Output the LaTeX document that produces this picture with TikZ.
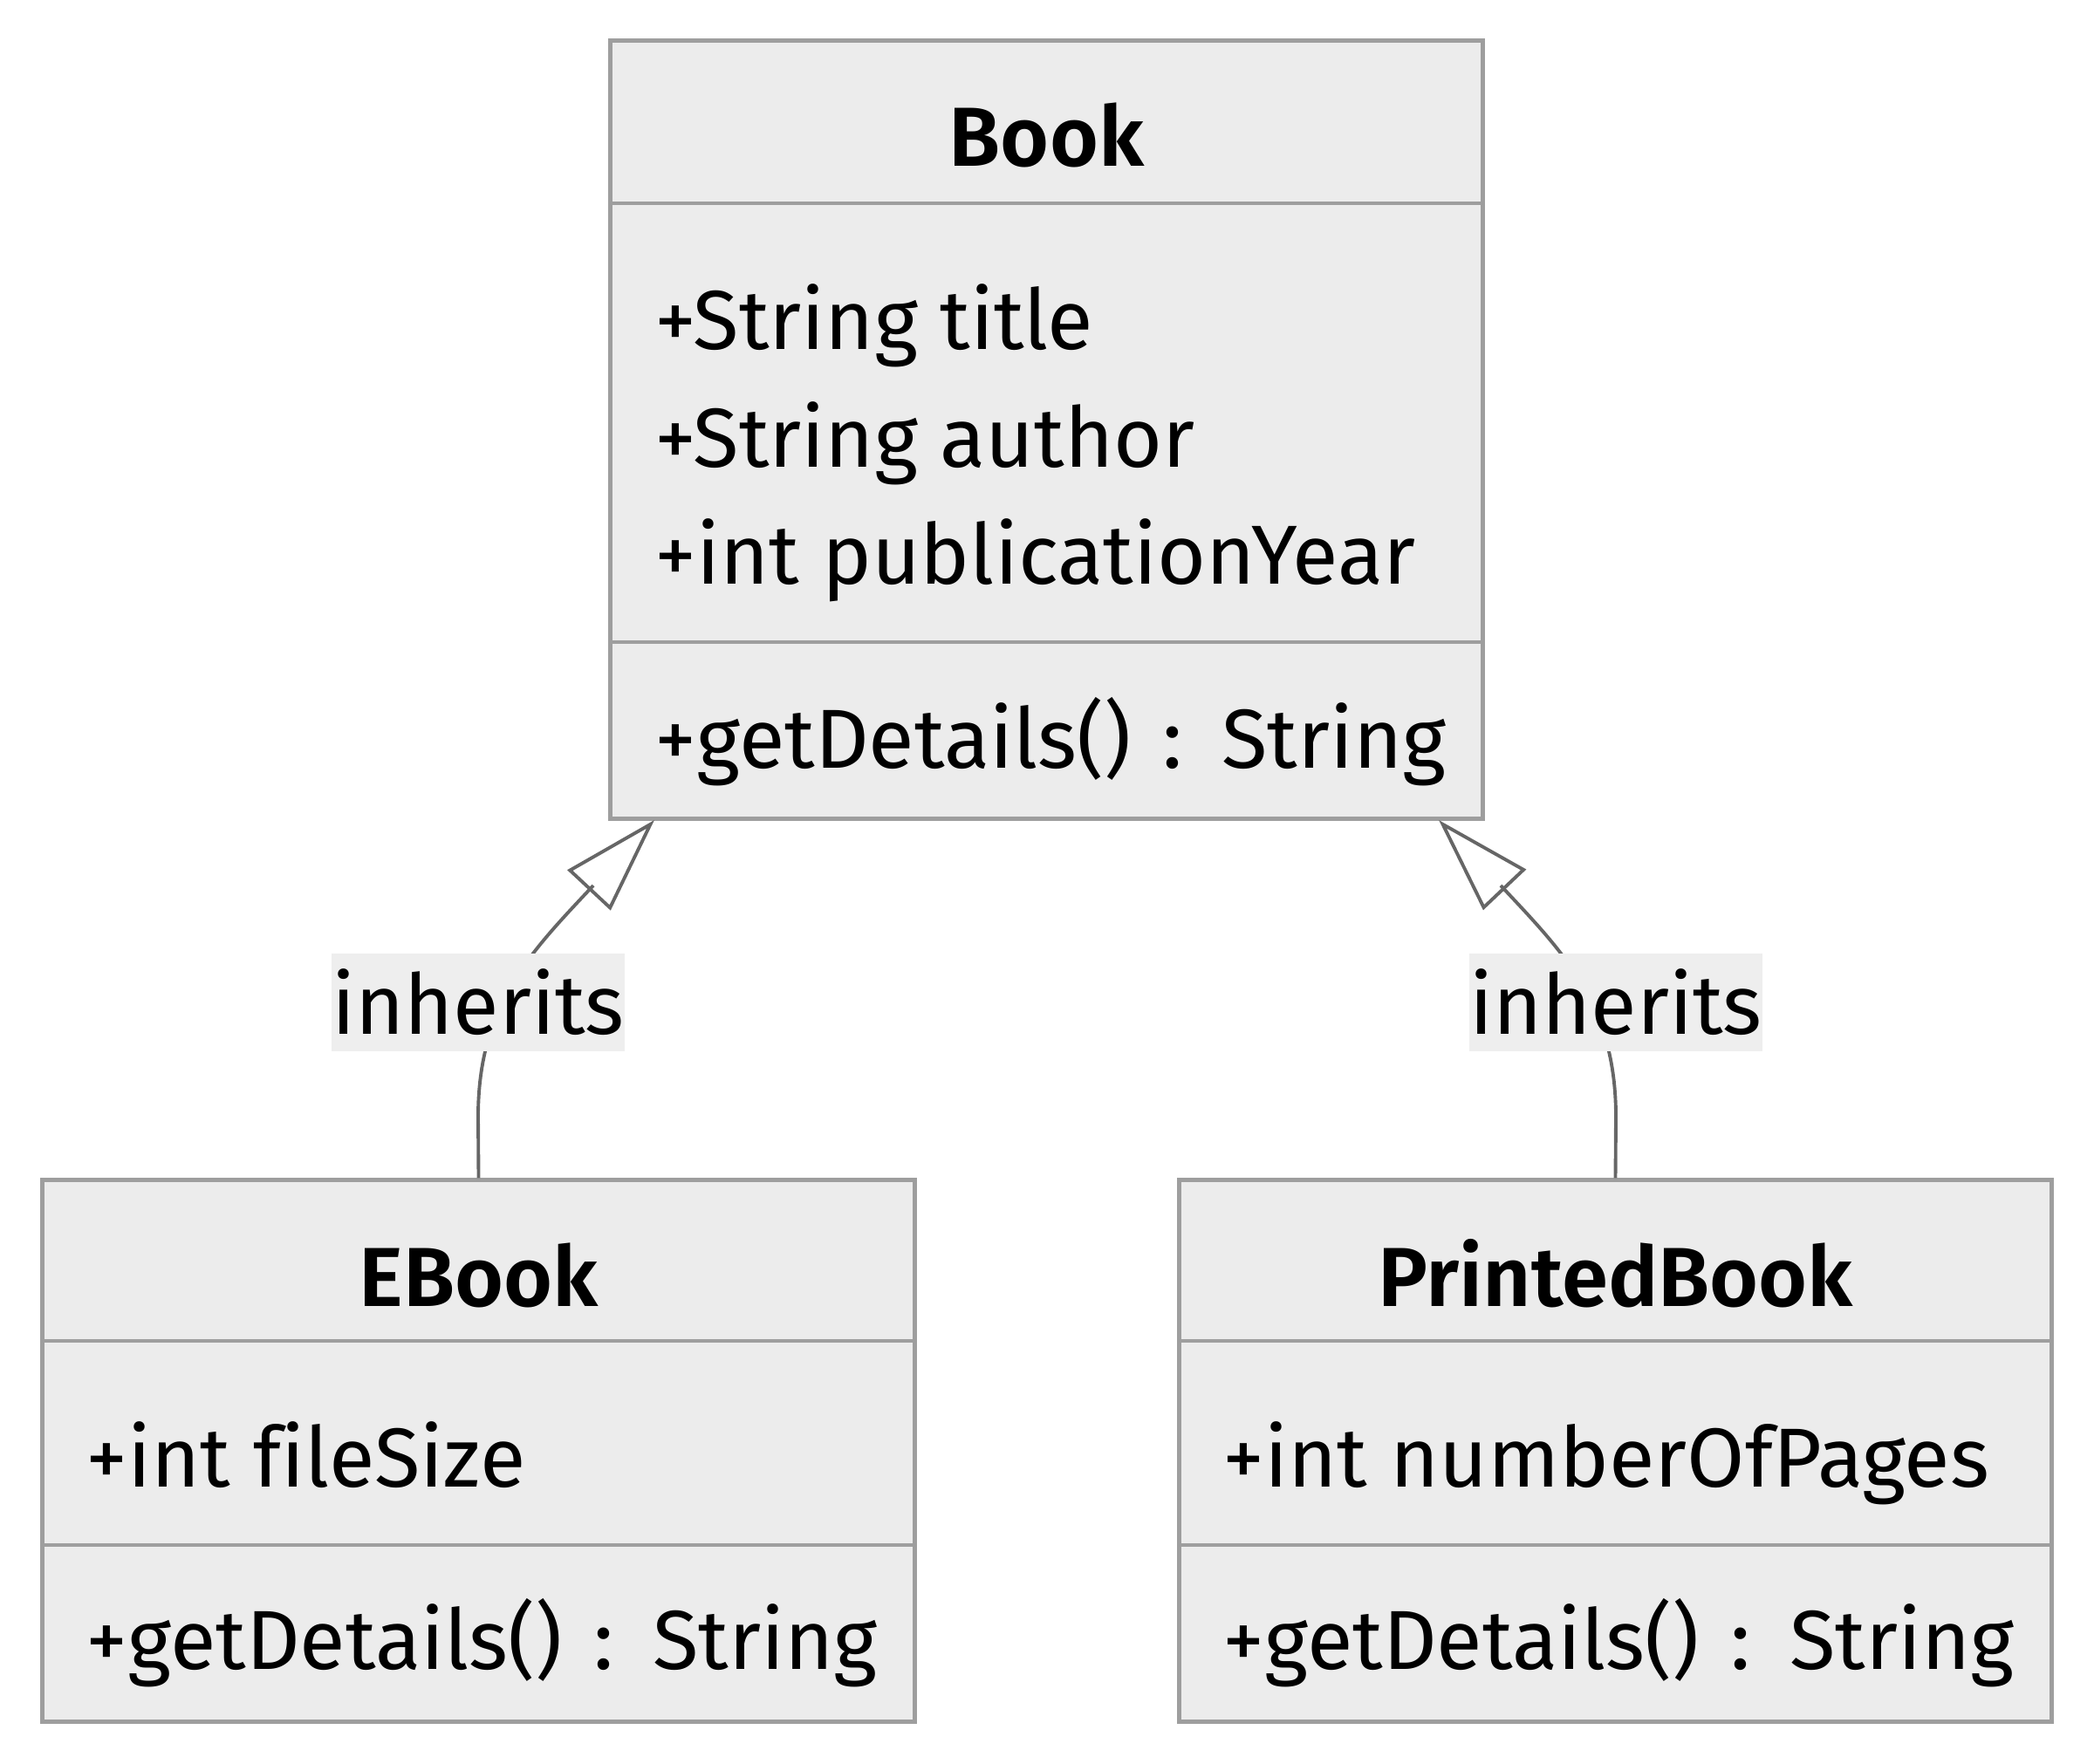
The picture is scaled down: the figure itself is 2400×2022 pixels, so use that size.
\documentclass[tikz,border=0pt]{standalone}
\usepackage{fontspec}
\setmainfont{Fira Sans}[Ligatures=NoCommon, BoldFont={Fira Sans SemiBold}]
\usetikzlibrary{arrows.meta}
\definecolor{boxfill}{HTML}{ECECEC}
\definecolor{boxline}{HTML}{9E9E9E}
\definecolor{edgeline}{HTML}{666666}
\definecolor{labelfill}{HTML}{EEEEEE}
\newcommand{\rtype}{\hspace{3pt} : \hspace{3pt}}
\tikzset{
	classbox/.style={draw=boxline, fill=boxfill, line width=1.4pt, inner sep=0pt},
	divider/.style={draw=boxline, line width=1.4pt},
	member/.style={anchor=base west, inner sep=0pt, font=\fontsize{27.3}{33}\selectfont},
	classname/.style={anchor=base, inner sep=0pt, font=\fontsize{27.3}{33}\selectfont\bfseries},
	inherit/.style={draw=edgeline, line width=1.1pt, -{Triangle[open, length=1.1cm, width=0.67cm]}},
	edgelabel/.style={fill=labelfill, inner sep=0pt, minimum width=3.3cm, minimum height=1.12cm, font=\fontsize{27.3}{33}\selectfont}
}
\begin{document}
\begin{tikzpicture}[x=0.01cm, y=-0.01cm]
	\useasboundingbox (0,0) rectangle (2400,2022);
	
	\node[classbox, minimum width=9.99cm, minimum height=8.91cm] (book) at (1199.5,492.5) {};
	\draw[divider] (700,233) -- (1699,233);
	\draw[divider] (700,736) -- (1699,736);
	\node[classname] (bookT) at (1199.5,191) {Book};
	\node[member] (bookA1) at (750,401) {+String title};
	\node[member] (bookA2) at (750,536) {+String author};
	\node[member] (bookA3) at (750,670) {+int publicationYear};
	\node[member] (bookM1) at (750,880) {+getDetails()\rtype String};
	
	\node[classbox, minimum width=9.99cm, minimum height=6.2cm] (ebook) at (548.5,1663) {};
	\draw[divider] (49,1537) -- (1048,1537);
	\draw[divider] (49,1771) -- (1048,1771);
	\node[classname] (ebookT) at (548.5,1497) {EBook};
	\node[member] (ebookA1) at (98,1704) {+int fileSize};
	\node[member] (ebookM1) at (98,1913) {+getDetails()\rtype String};
	
	\node[classbox, minimum width=9.99cm, minimum height=6.2cm] (pbook) at (1851.5,1663) {};
	\draw[divider] (1352,1537) -- (2351,1537);
	\draw[divider] (1352,1771) -- (2351,1771);
	\node[classname] (pbookT) at (1851.5,1497) {PrintedBook};
	\node[member] (pbookA1) at (1401,1704) {+int numberOfPages};
	\node[member] (pbookM1) at (1401,1913) {+getDetails()\rtype String};
	
	\coordinate (tipL) at (750,940);
	\coordinate (tipR) at (1649,940);
	\draw[inherit] (ebook.north) -- (548,1280) .. controls (548,1150) and (610,1090) .. (680,1015) -- (tipL);
	\draw[inherit] (pbook.north) -- (1852,1280) .. controls (1852,1150) and (1790,1090) .. (1720,1015) -- (tipR);
	\node[edgelabel] (lblL) at (548,1149) {inherits};
	\node[edgelabel] (lblR) at (1852,1149) {inherits};
	
\end{tikzpicture}
\end{document}
